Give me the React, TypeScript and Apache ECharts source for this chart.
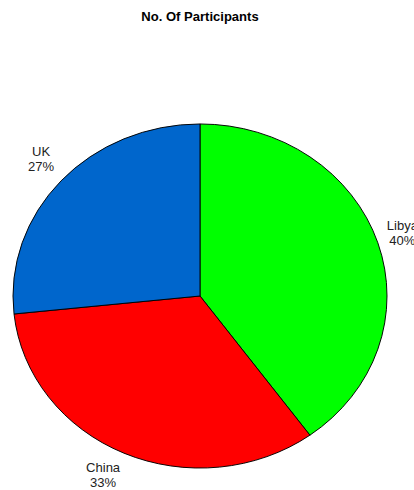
import React, { useEffect, useRef } from "react";
import * as echarts from "echarts";

const titleText = "No. Of Participants";
const categories = ["Libya", "China", "UK"];
const values = [12, 10, 8];
const colors = ["#00FF00", "#FF0000", "#0066CC"];

const CX = 200;
const CY = 296;
const RX = 187;
const RY = 172;
const STRETCH = RX / RY;
const FONT_FAMILY = "'Liberation Sans', Arial, Helvetica, sans-serif";
const LABEL_SIZE = 12;
const LINE_H = 15;

export default function App() {
  const ref = useRef<HTMLDivElement>(null);
  useEffect(() => {
    if (!ref.current) return;
    const chart = echarts.init(ref.current, null, { renderer: "svg" });
    const total = values.reduce((a, b) => a + b, 0);
    const starts: number[] = [];
    let acc = 0;
    values.forEach((v) => {
      starts.push(acc);
      acc += v;
    });
    const ctx = document.createElement("canvas").getContext("2d")!;
    ctx.font = `${LABEL_SIZE}px ${FONT_FAMILY}`;
    const clamp = (x: number) => Math.max(0, Math.min(1, x));

    const option = {
      animation: false,
      graphic: [
        {
          type: "text",
          x: 200,
          y: 17.5,
          scaleX: STRETCH,
          style: {
            text: titleText,
            align: "center",
            verticalAlign: "middle",
            font: `bold 12px ${FONT_FAMILY}`,
            fill: "#000",
          },
        },
      ],
      series: [
        {
          type: "custom",
          coordinateSystem: "none",
          data: values.map((v, i) => ({ name: categories[i], value: [v, i] })),
          renderItem: (params: any, api: any) => {
            const i = params.dataIndex;
            const v = api.value(0);
            const a0 = -Math.PI / 2 + (starts[i] / total) * Math.PI * 2;
            const a1 = -Math.PI / 2 + ((starts[i] + v) / total) * Math.PI * 2;
            const mid = (a0 + a1) / 2;
            const c = Math.cos(mid);
            const s = Math.sin(mid);
            const ax = CX + c * RX * 1.05;
            const ay = CY + s * RY * 1.05;
            const pct = Math.round((v / total) * 100) + "%";
            const text = categories[i] + "\n" + pct;
            const w =
              Math.max(ctx.measureText(categories[i]).width, ctx.measureText(pct).width) * STRETCH;
            const h = LINE_H * 2;
            const fx = clamp(0.5 - c * 1.5);
            const fy = clamp(0.5 - s * 0.75);
            const boxLeft = ax - fx * w;
            const boxTop = ay - fy * h;
            return {
              type: "group",
              children: [
                {
                  type: "sector",
                  x: CX,
                  y: CY,
                  scaleX: 1,
                  scaleY: RY / RX,
                  shape: { cx: 0, cy: 0, r0: 0, r: RX, startAngle: a0, endAngle: a1, clockwise: true },
                  style: { fill: colors[i], stroke: "#000", lineWidth: 1, strokeNoScale: true },
                },
                {
                  type: "text",
                  x: boxLeft + w / 2,
                  y: boxTop,
                  scaleX: STRETCH,
                  style: {
                    text,
                    align: "center",
                    verticalAlign: "top",
                    font: `${LABEL_SIZE}px ${FONT_FAMILY}`,
                    lineHeight: LINE_H,
                    fill: "#222",
                  },
                },
              ],
            };
          },
        },
      ],
    };
    chart.setOption(option as any);
    return () => chart.dispose();
  }, []);
  return (
    <div
      ref={ref}
      style={{ position: "fixed", left: 0, top: 0, width: 414, height: 490, background: "#fff" }}
    />
  );
}
